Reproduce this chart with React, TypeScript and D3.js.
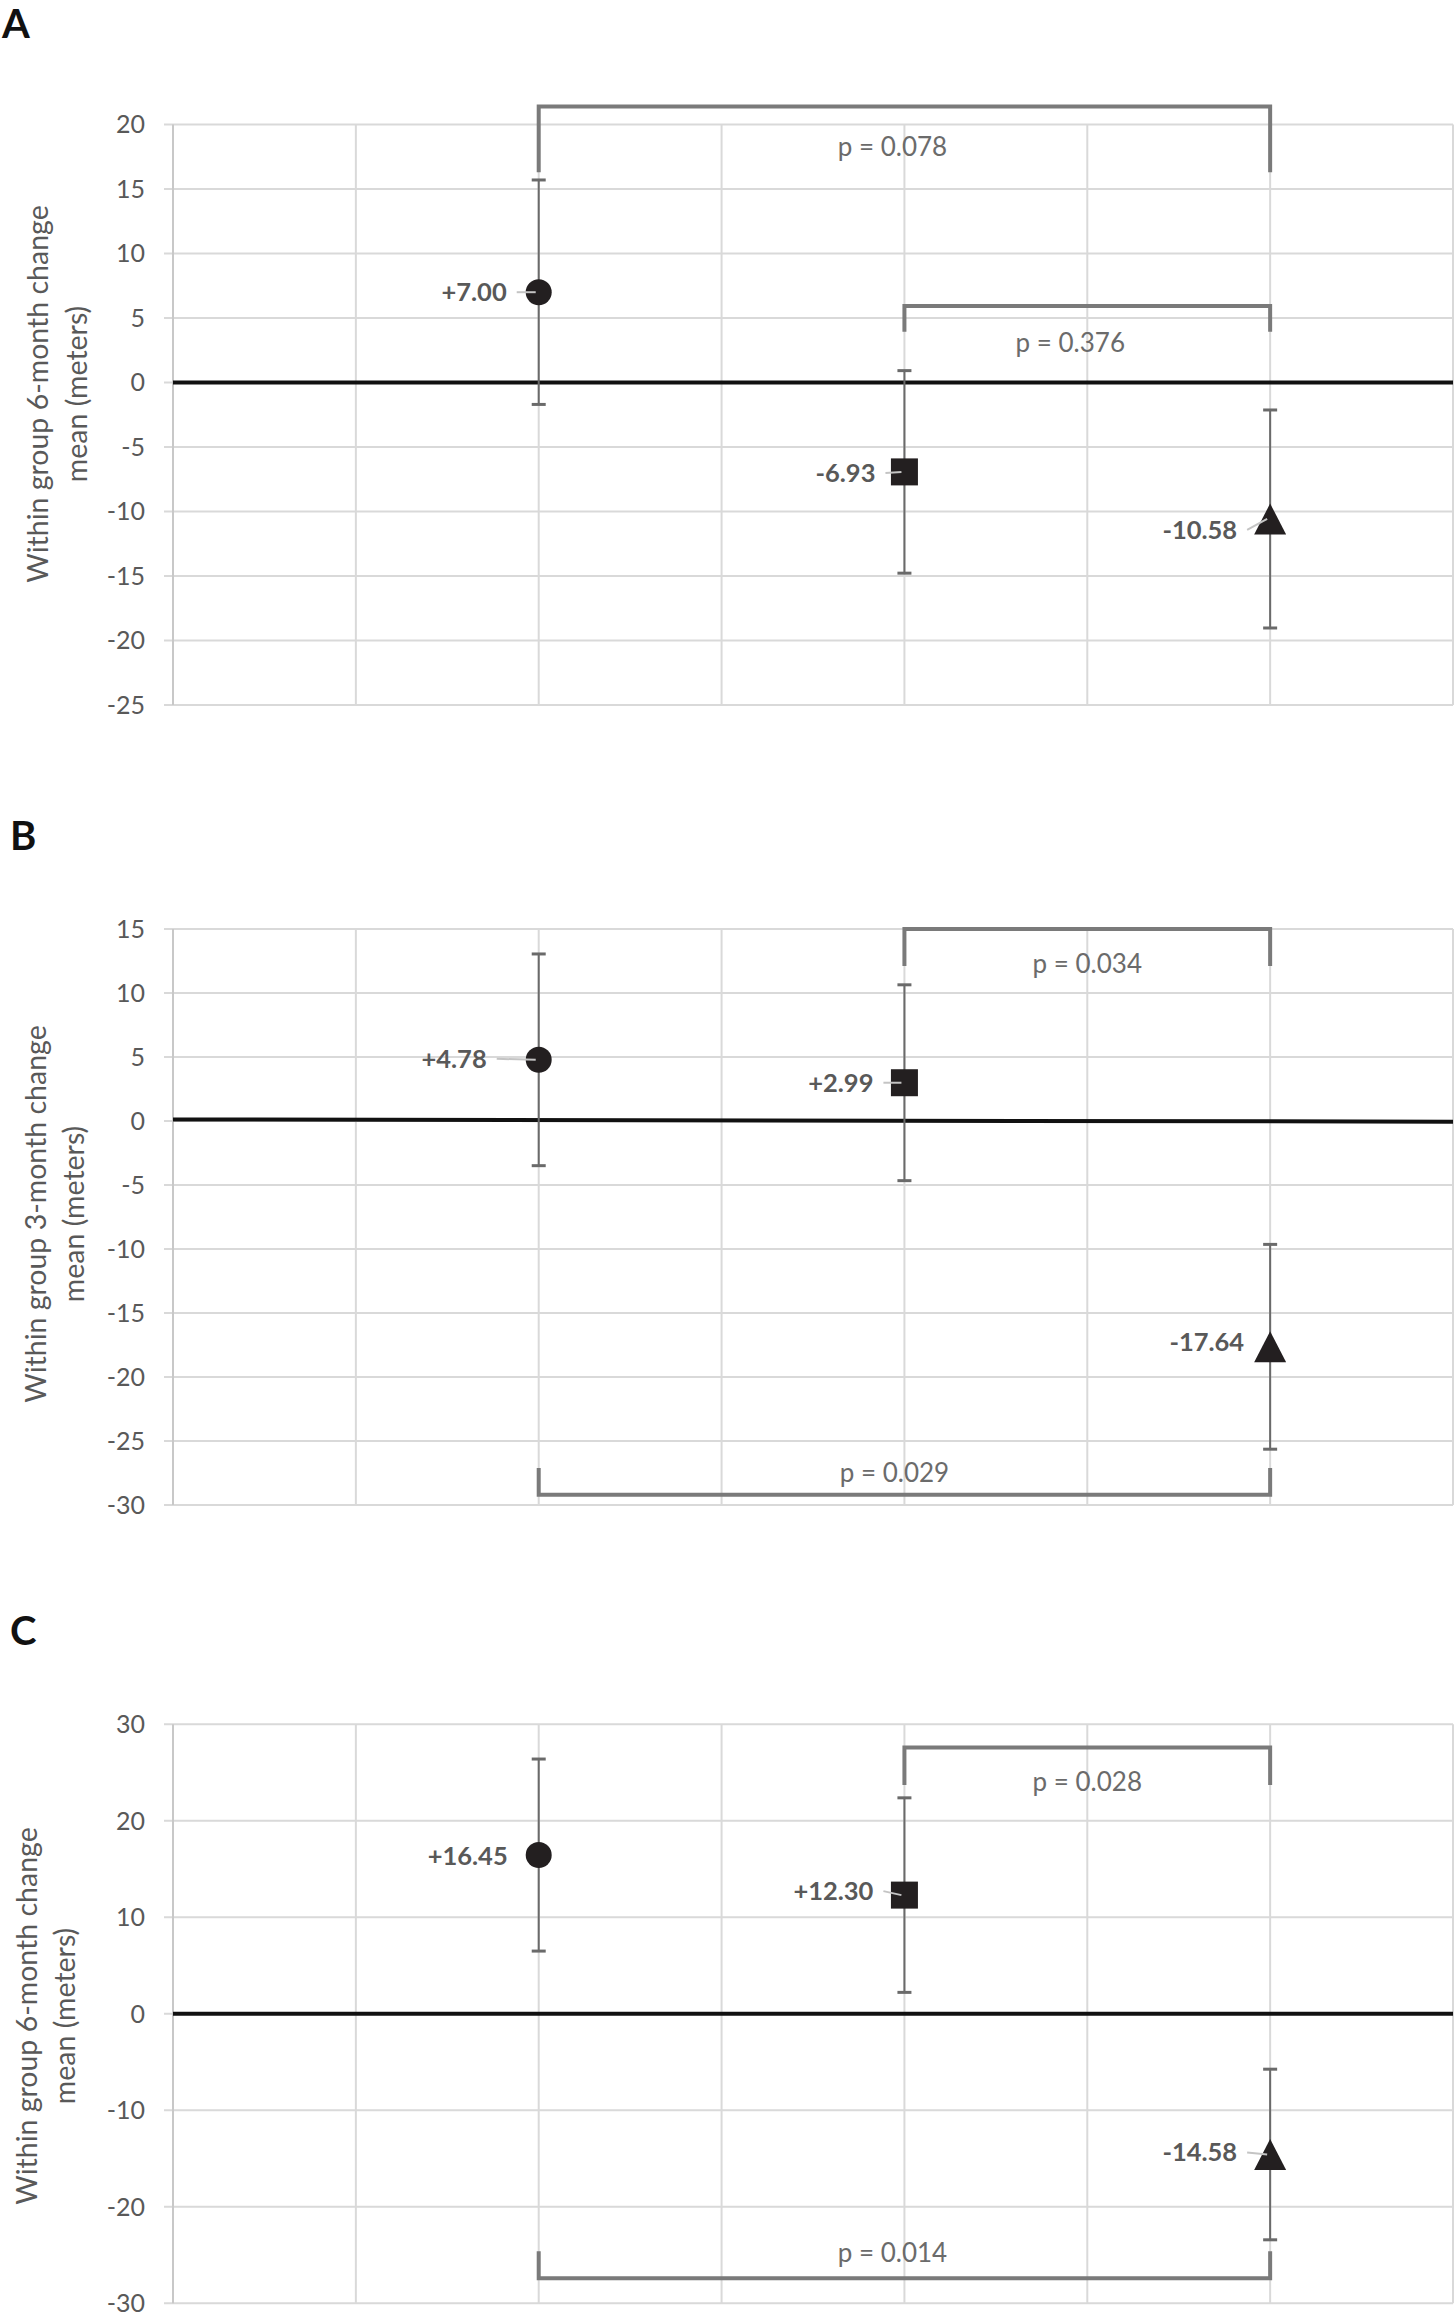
import React from "react";
import * as d3 from "d3";

// ---------- DATA ----------
const groupX = [2, 4, 6]; // positions of the three groups on the x grid (0..7)
const shapes = ["circle", "square", "triangle"];

// Panel A
const meansA = [7.0, -6.93, -10.58];
const errA = [8.7, 7.85, 8.45];
const labelsA = ["+7.00", "-6.93", "-10.58"];
const ticksA = [20, 15, 10, 5, 0, -5, -10, -15, -20, -25];
const bracketFromA = [0, 1];
const bracketToA = [2, 2];
const bracketBarA = [21.4, 5.93];
const bracketEndA = [16.3, 3.94];
const bracketTextA = ["p = 0.078", "p = 0.376"];
const bracketTextYA = [18.3, 3.07];

// Panel B
const meansB = [4.78, 2.99, -17.64];
const errB = [8.27, 7.65, 8.0];
const labelsB = ["+4.78", "+2.99", "-17.64"];
const ticksB = [15, 10, 5, 0, -5, -10, -15, -20, -25, -30];
const bracketFromB = [1, 0];
const bracketToB = [2, 2];
const bracketBarB = [15.0, -29.2];
const bracketEndB = [12.1, -27.1];
const bracketTextB = ["p = 0.034", "p = 0.029"];
const bracketTextYB = [12.3, -27.5];
const zeroLineB = [0.12, -0.05];

// Panel C
const meansC = [16.45, 12.3, -14.58];
const errC = [9.95, 10.08, 8.84];
const labelsC = ["+16.45", "+12.30", "-14.58"];
const ticksC = [30, 20, 10, 0, -10, -20, -30];
const bracketFromC = [1, 0];
const bracketToC = [2, 2];
const bracketBarC = [27.6, -27.4];
const bracketEndC = [23.7, -24.6];
const bracketTextC = ["p = 0.028", "p = 0.014"];
const bracketTextYC = [24.0, -24.8];

const titleLine1A = "Within group 6-month change";
const titleLine1B = "Within group 3-month change";
const titleLine1C = "Within group 6-month change";
const titleLine2 = "mean (meters)";

// ---------- LAYOUT / STYLE ----------
const X_LEFT = 173;
const X_RIGHT = 1453;
const xScale = d3.scaleLinear().domain([0, 7]).range([X_LEFT, X_RIGHT]);
const xGrid = d3.range(0, 8);

const FONT = "Lato, 'Open Sans', 'DejaVu Sans', sans-serif";
const GRID = "#d9d9d9";
const AXIS = "#c8c8c8";
const TEXT = "#595959";
const BRACKET = "#7a7a7a";
const ERR = "#6a6a6a";
const MARK = "#231f20";

type PanelProps = {
  letter: string;
  letterY: number;
  letterX: number;
  top: number;
  bottom: number;
  ticks: number[];
  means: number[];
  errs: number[];
  labels: string[];
  labelDx: number[];
  labelDy: number[];
  leader: boolean[];
  bFrom: number[];
  bTo: number[];
  bBar: number[];
  bEnd: number[];
  bText: string[];
  bTextY: number[];
  bTextDx: number[];
  zero: number[];
  title1: string;
  titleY: number;
  titleX1: number;
  titleX2: number;
};

function Marker({ shape, cx, cy }: { shape: string; cx: number; cy: number }) {
  if (shape === "circle") return <circle cx={cx} cy={cy} r={13} fill={MARK} />;
  if (shape === "square")
    return <rect x={cx - 13.5} y={cy - 13.5} width={27} height={27} fill={MARK} />;
  const w = 32,
    h = 31;
  const p = d3.path();
  p.moveTo(cx, cy - h / 2);
  p.lineTo(cx + w / 2, cy + h / 2);
  p.lineTo(cx - w / 2, cy + h / 2);
  p.closePath();
  return <path d={p.toString()} fill={MARK} />;
}

function Panel(props: PanelProps) {
  const ext = d3.extent(props.ticks) as [number, number];
  const y = d3.scaleLinear().domain(ext).range([props.bottom, props.top]);
  return (
    <g>
      <text x={props.letterX} y={props.letterY} fontFamily={FONT} fontWeight={700} fontSize={40} fill="#111">
        {props.letter}
      </text>
      {/* axis title */}
      <g fontFamily={FONT} fontSize={28.5} fill={TEXT} textAnchor="middle">
        <text transform={`translate(${props.titleX1},${props.titleY}) rotate(-90)`}>{props.title1}</text>
        <text transform={`translate(${props.titleX2},${props.titleY}) rotate(-90)`}>{titleLine2}</text>
      </g>
      {/* horizontal gridlines + ticks */}
      {props.ticks.map((t) => (
        <g key={"h" + t}>
          <line x1={X_LEFT - 9} x2={X_RIGHT} y1={y(t)} y2={y(t)} stroke={GRID} strokeWidth={2} />
          <text
            x={145}
            y={y(t)}
            dy="0.35em"
            textAnchor="end"
            fontFamily={FONT}
            fontSize={25}
            fill={TEXT}
          >
            {t}
          </text>
        </g>
      ))}
      {/* vertical gridlines */}
      {xGrid.map((g) => (
        <line
          key={"v" + g}
          x1={xScale(g)}
          x2={xScale(g)}
          y1={props.top}
          y2={props.bottom}
          stroke={g === 0 ? AXIS : GRID}
          strokeWidth={2}
        />
      ))}
      {/* zero line */}
      <line
        x1={X_LEFT}
        x2={X_RIGHT}
        y1={y(props.zero[0])}
        y2={y(props.zero[1])}
        stroke="#111"
        strokeWidth={4}
      />
      {/* brackets */}
      {props.bFrom.map((f, i) => {
        const x1 = xScale(groupX[f]);
        const x2 = xScale(groupX[props.bTo[i]]);
        const p = d3.path();
        p.moveTo(x1, y(props.bEnd[i]));
        p.lineTo(x1, y(props.bBar[i]));
        p.lineTo(x2, y(props.bBar[i]));
        p.lineTo(x2, y(props.bEnd[i]));
        return (
          <g key={"b" + i}>
            <path d={p.toString()} fill="none" stroke={BRACKET} strokeWidth={4} />
            <text
              x={(x1 + x2) / 2 + props.bTextDx[i]}
              y={y(props.bTextY[i])}
              dy="0.35em"
              textAnchor="middle"
              fontFamily={FONT}
              fontSize={26}
              fill="#6b6b6b"
            >
              {props.bText[i]}
            </text>
          </g>
        );
      })}
      {/* error bars + markers + labels */}
      {props.means.map((m, i) => {
        const cx = xScale(groupX[i]);
        const cy = y(m);
        const hi = y(m + props.errs[i]);
        const lo = y(m - props.errs[i]);
        const lx = cx + props.labelDx[i];
        const ly = cy + props.labelDy[i];
        return (
          <g key={"p" + i}>
            <line x1={cx} x2={cx} y1={hi} y2={lo} stroke={ERR} strokeWidth={2} />
            <line x1={cx - 7} x2={cx + 7} y1={hi} y2={hi} stroke={ERR} strokeWidth={3} />
            <line x1={cx - 7} x2={cx + 7} y1={lo} y2={lo} stroke={ERR} strokeWidth={3} />
            <Marker shape={shapes[i]} cx={cx} cy={cy} />
            {props.leader[i] && (
              <line x1={lx + 10} x2={cx - 3} y1={ly} y2={cy} stroke="#c4c4c4" strokeWidth={2} />
            )}
            <text
              x={lx}
              y={ly}
              dy="0.35em"
              textAnchor="end"
              fontFamily={FONT}
              fontWeight={700}
              fontSize={25.5}
              fill={TEXT}
            >
              {props.labels[i]}
            </text>
          </g>
        );
      })}
    </g>
  );
}

export default function App() {
  return (
    <svg
      width={1456}
      height={2321}
      style={{ position: "absolute", left: 0, top: 0, background: "#fff" }}
    >
      <rect width={1456} height={2321} fill="#fff" />
      <Panel
        letter="A"
        letterX={2}
        letterY={38}
        top={124.5}
        bottom={705}
        ticks={ticksA}
        means={meansA}
        errs={errA}
        labels={labelsA}
        labelDx={[-32, -29, -33]}
        labelDy={[0, 1, 11]}
        leader={[true, true, true]}
        bFrom={bracketFromA}
        bTo={bracketToA}
        bBar={bracketBarA}
        bEnd={bracketEndA}
        bText={bracketTextA}
        bTextY={bracketTextYA}
        bTextDx={[-12, -17]}
        zero={[0, 0]}
        title1={titleLine1A}
        titleY={394}
        titleX1={48}
        titleX2={87}
      />
      <Panel
        letter="B"
        letterX={10}
        letterY={850}
        top={929}
        bottom={1505}
        ticks={ticksB}
        means={meansB}
        errs={errB}
        labels={labelsB}
        labelDx={[-52, -31, -26]}
        labelDy={[-1, 0, -5]}
        leader={[true, true, false]}
        bFrom={bracketFromB}
        bTo={bracketToB}
        bBar={bracketBarB}
        bEnd={bracketEndB}
        bText={bracketTextB}
        bTextY={bracketTextYB}
        bTextDx={[0, -10]}
        zero={zeroLineB}
        title1={titleLine1B}
        titleY={1214}
        titleX1={46}
        titleX2={84}
      />
      <Panel
        letter="C"
        letterX={10}
        letterY={1645}
        top={1724.3}
        bottom={2303.3}
        ticks={ticksC}
        means={meansC}
        errs={errC}
        labels={labelsC}
        labelDx={[-31, -31, -33]}
        labelDy={[1, -4, -2]}
        leader={[false, true, true]}
        bFrom={bracketFromC}
        bTo={bracketToC}
        bBar={bracketBarC}
        bEnd={bracketEndC}
        bText={bracketTextC}
        bTextY={bracketTextYC}
        bTextDx={[0, -12]}
        zero={[0, 0]}
        title1={titleLine1C}
        titleY={2016}
        titleX1={37}
        titleX2={75}
      />
    </svg>
  );
}
